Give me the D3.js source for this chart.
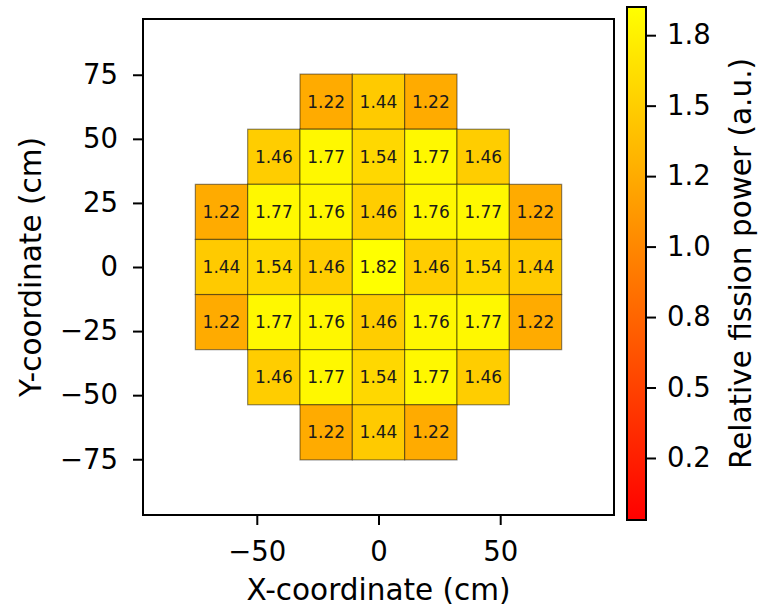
<!DOCTYPE html>
<html>
<head>
<meta charset="utf-8">
<script src="https://cdn.jsdelivr.net/npm/d3@7"></script>
<style>
  body { margin: 0; background: #fff; }
  text { font-family: "DejaVu Sans", sans-serif; }
</style>
</head>
<body>
<svg id="chart"></svg>
<script>
// assembly centres (cm) and relative fission power per assembly (null = no fuel)
const xCenters = [-64.5, -43, -21.5, 0, 21.5, 43, 64.5];
const yCenters = [64.5, 43, 21.5, 0, -21.5, -43, -64.5];
const powerRows = [
    [null, null, 1.22, 1.44, 1.22, null, null],
    [null, 1.46, 1.77, 1.54, 1.77, 1.46, null],
    [1.22, 1.77, 1.76, 1.46, 1.76, 1.77, 1.22],
    [1.44, 1.54, 1.46, 1.82, 1.46, 1.54, 1.44],
    [1.22, 1.77, 1.76, 1.46, 1.76, 1.77, 1.22],
    [null, 1.46, 1.77, 1.54, 1.77, 1.46, null],
    [null, null, 1.22, 1.44, 1.22, null, null]
];
const xTickValues = [-50, 0, 50];
const yTickValues = [-75, -50, -25, 0, 25, 50, 75];
const cbarTickValues = [0.22, 0.47, 0.72, 0.97, 1.22, 1.47, 1.72];
const cbarTickLabels = ["0.2", "0.5", "0.8", "1.0", "1.2", "1.5", "1.8"];

const pitch = 21.5;
const limit = 96.75;

const W = 760, H = 608;
const margin = {top: 19, left: 143};
const width = 471, height = 496;
const cbar = {x: 627, y: 7, w: 19, h: 513};
const tickFont = 27.5, labelFont = 29.5, cellFont = 17;

const svg = d3.select('#chart')
    .attr('width', W)
    .attr('height', H);

const chart = svg.append('g')
    .attr('transform', `translate(${margin.left}, ${margin.top})`);

const xScale = d3.scaleLinear().domain([-limit, limit]).range([0, width]);
const yScale = d3.scaleLinear().domain([-limit, limit]).range([height, 0]);

const cells = [];
powerRows.forEach((row, r) => {
    row.forEach((v, c) => {
        if (v !== null) cells.push({x: xCenters[c], y: yCenters[r], value: v});
    });
});

const maxPower = d3.max(cells, d => d.value);
const color = d3.scaleSequential(d3.interpolateRgb('#ff0000', '#ffff00'))
    .domain([0, maxPower]);

// cells
chart.selectAll('rect.cell')
    .data(cells)
    .join('rect')
    .attr('class', 'cell')
    .attr('x', d => xScale(d.x - pitch / 2))
    .attr('y', d => yScale(d.y + pitch / 2))
    .attr('width', d => xScale(d.x + pitch / 2) - xScale(d.x - pitch / 2))
    .attr('height', d => yScale(d.y - pitch / 2) - yScale(d.y + pitch / 2))
    .style('fill', d => color(d.value))
    .style('stroke', 'rgba(0,0,0,0.45)')
    .style('stroke-width', 1.2);

chart.selectAll('text.cell-label')
    .data(cells)
    .join('text')
    .attr('class', 'cell-label')
    .attr('x', d => xScale(d.x))
    .attr('y', d => yScale(d.y))
    .attr('dy', '0.36em')
    .attr('text-anchor', 'middle')
    .style('font-size', cellFont + 'px')
    .style('fill', '#1a1a1a')
    .text(d => d.value.toFixed(2));

// axes
const xAxis = d3.axisBottom(xScale).tickValues(xTickValues).tickSize(10).tickPadding(16);
const yAxis = d3.axisLeft(yScale).tickValues(yTickValues).tickSize(10).tickPadding(15);

const xAxisGroup = chart.append('g')
    .attr('transform', `translate(0, ${height})`)
    .call(xAxis);
const yAxisGroup = chart.append('g')
    .call(yAxis);

[xAxisGroup, yAxisGroup].forEach(g => {
    g.attr('font-family', null);
    g.select('.domain').remove();
    g.selectAll('.tick line').style('stroke', '#000').style('stroke-width', 2);
    g.selectAll('.tick text').style('font-size', tickFont + 'px').style('fill', '#000');
});

chart.append('rect')
    .attr('width', width)
    .attr('height', height)
    .style('fill', 'none')
    .style('stroke', '#000')
    .style('stroke-width', 2);

// axis labels
svg.append('text')
    .attr('x', margin.left + width / 2)
    .attr('y', 600)
    .attr('text-anchor', 'middle')
    .style('font-size', labelFont + 'px')
    .text('X-coordinate (cm)');

svg.append('text')
    .attr('transform', `translate(41, ${margin.top + height / 2}) rotate(-90)`)
    .attr('text-anchor', 'middle')
    .style('font-size', labelFont + 'px')
    .text('Y-coordinate (cm)');

// colorbar
const defs = svg.append('defs');
const grad = defs.append('linearGradient')
    .attr('id', 'cbar-grad')
    .attr('x1', 0).attr('y1', 1).attr('x2', 0).attr('y2', 0);
d3.range(0, 1.0001, 0.1).forEach(t => {
    grad.append('stop')
        .attr('offset', t)
        .attr('stop-color', color(t * maxPower));
});

const cbScale = d3.scaleLinear().domain([0, maxPower]).range([cbar.h, 0]);
const cbGroup = svg.append('g')
    .attr('transform', `translate(${cbar.x}, ${cbar.y})`);

cbGroup.append('rect')
    .attr('width', cbar.w)
    .attr('height', cbar.h)
    .style('fill', 'url(#cbar-grad)')
    .style('stroke', '#000')
    .style('stroke-width', 2);

const cbAxis = d3.axisRight(cbScale)
    .tickValues(cbarTickValues)
    .tickFormat((d, i) => cbarTickLabels[i])
    .tickSize(10)
    .tickPadding(11);

const cbAxisGroup = cbGroup.append('g')
    .attr('transform', `translate(${cbar.w}, 0)`)
    .call(cbAxis)
    .attr('font-family', null);
cbAxisGroup.select('.domain').remove();
cbAxisGroup.selectAll('.tick line').style('stroke', '#000').style('stroke-width', 2);
cbAxisGroup.selectAll('.tick text').style('font-size', tickFont + 'px').style('fill', '#000');

svg.append('text')
    .attr('transform', `translate(751, ${cbar.y + cbar.h / 2}) rotate(-90)`)
    .attr('text-anchor', 'middle')
    .style('font-size', labelFont + 'px')
    .text('Relative fission power (a.u.)');
</script>
</body>
</html>
